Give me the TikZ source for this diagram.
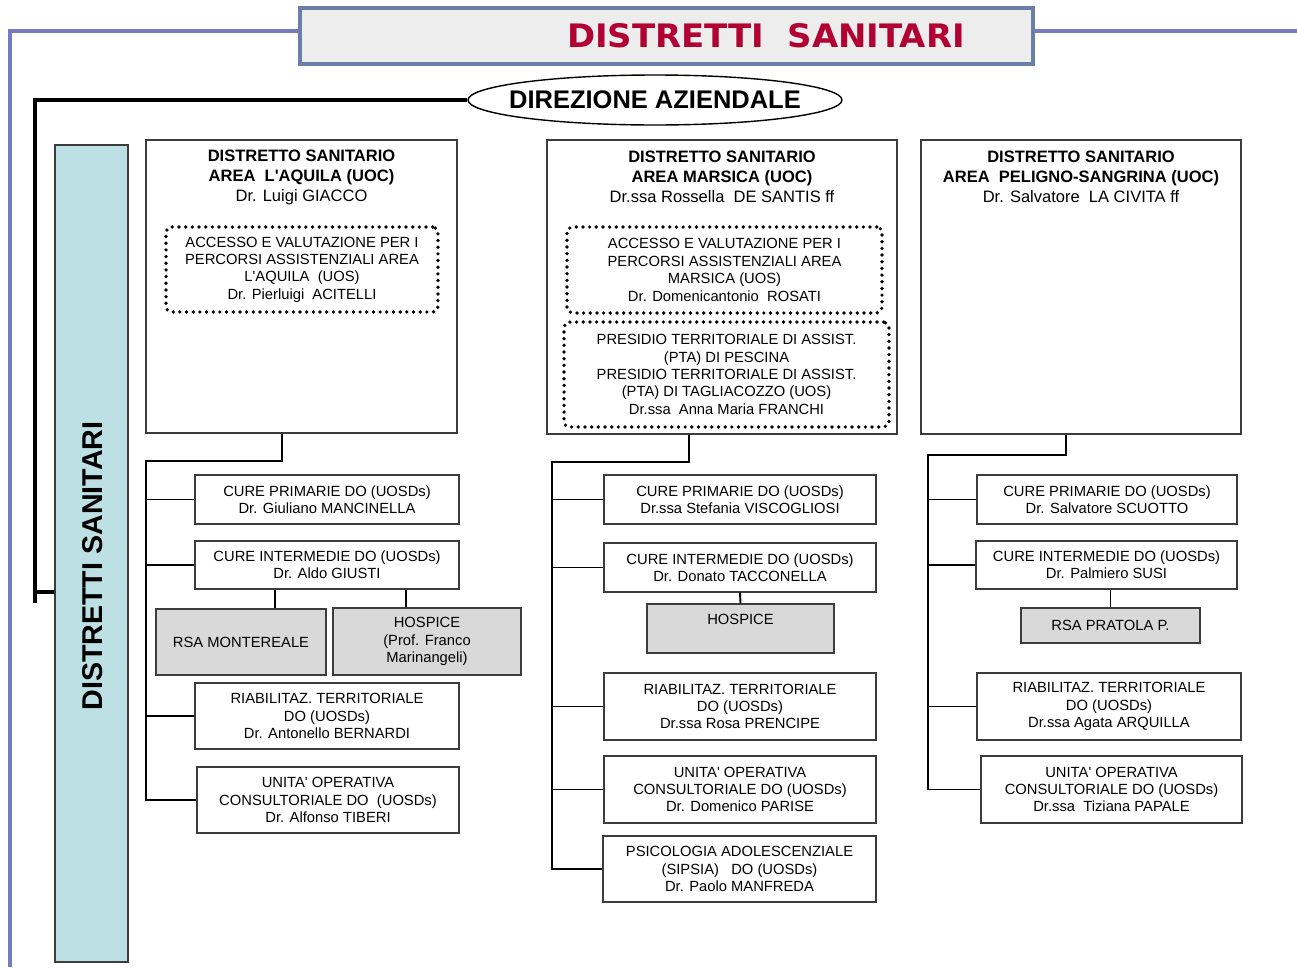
\documentclass[tikz,border=0pt]{standalone}
\usepackage{fontspec}
\setmainfont{Liberation Sans}[Ligatures=TeXOff]
\newfontfamily\titlefont{DejaVu Sans}
\usetikzlibrary{shapes.geometric}

\definecolor{framecol}{RGB}{118,122,190}
\definecolor{titleborder}{RGB}{104,128,168}
\definecolor{titlered}{RGB}{178,0,50}
\definecolor{sidecyan}{RGB}{189,224,228}
\definecolor{subgrey}{RGB}{217,217,217}
\definecolor{boxgrey}{RGB}{60,60,60}

\begin{document}
\begin{tikzpicture}
  [x=0.02cm,y=-0.02cm,
   every node/.style={font=\fontsize{8.4}{9.9}\selectfont,align=center,inner sep=0pt},
   unit/.style={draw=boxgrey,line width=0.7pt,fill=white},
   sub/.style={unit,fill=subgrey},
   dotbox/.style={draw,line width=2.1pt,line cap=round,dash pattern=on 0pt off 3.8pt,rounded corners=3pt},
   head/.style={font=\fontsize{9.4}{11.4}\selectfont},
   link/.style={line width=1.1pt},
   heavy/.style={line width=2.3pt},
   frame/.style={framecol,line width=2.3pt}]
  \useasboundingbox (0,0) rectangle (1297,967);

  % title and frame
  \node[draw=titleborder,line width=2.6pt,fill=black!7,minimum width=14.66cm,minimum height=1.12cm] (title) at (666.5,36) {};
  \node[text=titlered] (titlet) at (766,36) {\resizebox{7.96cm}{0.48cm}{\titlefont\bfseries DISTRETTI~ SANITARI}};
  \coordinate (fl) at (10,31);
  \coordinate (fb) at (10,967);
  \coordinate (fr) at (1297,31);
  \draw[frame] (title.west |- fl) -- (fl) -- (fb);
  \draw[frame] (title.east |- fr) -- (fr);

  % direzione
  \node[ellipse,draw,line width=0.8pt,fill=white,minimum width=7.48cm,minimum height=1cm] (dir) at (655,100) {};
  \node[font=\fontsize{14.5}{17}\selectfont\bfseries] (dirt) at (655,100) {DIREZIONE AZIENDALE};
  \node[unit,fill=sidecyan,minimum width=1.46cm,minimum height=16.34cm] (side) at (91.5,553.5) {};
  \node[rotate=90,font=\fontsize{16.3}{19}\selectfont\bfseries] (sidet) at (93,566) {DISTRETTI SANITARI};
  \coordinate (bk) at (35,97);
  \coordinate (bb) at (35,603);
  \coordinate (bs) at (35,592);
  \draw[heavy] (dir.west) -- (dir.west -| bk) -- (bb);
  \draw[heavy] (bs) -- (bs -| side.west);

  % area l'aquila
  \node[unit,minimum width=6.22cm,minimum height=5.86cm] (d1) at (301.5,286.5) {};
  \node[head] (d1h) at (301.5,177) {\textbf{DISTRETTO SANITARIO}\\\textbf{AREA~ L'AQUILA (UOC)}\\Dr. Luigi GIACCO};
  \node[dotbox,minimum width=5.44cm,minimum height=1.70cm] (acc1) at (302,269.5) {ACCESSO E VALUTAZIONE PER I\\PERCORSI ASSISTENZIALI AREA\\L'AQUILA~ (UOS)\\Dr. Pierluigi~ ACITELLI};
  \node[unit,minimum width=5.28cm,minimum height=0.98cm] (cp1) at (327,499.5) {CURE PRIMARIE DO (UOSDs)\\Dr. Giuliano MANCINELLA};
  \node[unit,minimum width=5.28cm,minimum height=0.96cm] (ci1) at (327,565) {CURE INTERMEDIE DO (UOSDs)\\Dr. Aldo GIUSTI};
  \node[sub,minimum width=3.40cm,minimum height=1.32cm] (rsa1) at (241,642) {RSA MONTEREALE};
  \node[sub,minimum width=3.76cm,minimum height=1.34cm] (hosp1) at (427,641.5) {HOSPICE\\(Prof. Franco\\Marinangeli)};
  \node[unit,minimum width=5.28cm,minimum height=1.32cm] (riab1) at (327,716) {RIABILITAZ. TERRITORIALE\\DO (UOSDs)\\Dr. Antonello BERNARDI};
  \node[unit,minimum width=5.24cm,minimum height=1.32cm] (uo1) at (328,800) {UNITA' OPERATIVA\\CONSULTORIALE DO~ (UOSDs)\\Dr. Alfonso TIBERI};

  % area marsica
  \node[unit,minimum width=7.00cm,minimum height=5.88cm] (d2) at (722,287) {};
  \node[head] (d2h) at (722,177) {\textbf{DISTRETTO SANITARIO}\\\textbf{AREA MARSICA (UOC)}\\Dr.ssa Rossella~ DE SANTIS ff};
  \node[dotbox,minimum width=6.30cm,minimum height=1.72cm] (acc2) at (724.5,270) {ACCESSO E VALUTAZIONE PER I\\PERCORSI ASSISTENZIALI AREA\\MARSICA (UOS)\\Dr. Domenicantonio~ ROSATI};
  \node[dotbox,minimum width=6.50cm,minimum height=2.10cm] (pta2) at (726.5,374.5) {PRESIDIO TERRITORIALE DI ASSIST.\\(PTA) DI PESCINA\\PRESIDIO TERRITORIALE DI ASSIST.\\(PTA) DI TAGLIACOZZO (UOS)\\Dr.ssa~ Anna Maria FRANCHI};
  \node[unit,minimum width=5.44cm,minimum height=0.98cm] (cp2) at (740,499.5) {CURE PRIMARIE DO (UOSDs)\\Dr.ssa Stefania VISCOGLIOSI};
  \node[unit,minimum width=5.44cm,minimum height=0.98cm] (ci2) at (740,567.5) {CURE INTERMEDIE DO (UOSDs)\\Dr. Donato TACCONELLA};
  \node[sub,minimum width=3.74cm,minimum height=0.98cm] (hosp2) at (740.5,628.5) {HOSPICE\\~};
  \node[unit,minimum width=5.44cm,minimum height=1.34cm] (riab2) at (740,706.5) {RIABILITAZ. TERRITORIALE\\DO (UOSDs)\\Dr.ssa Rosa PRENCIPE};
  \node[unit,minimum width=5.44cm,minimum height=1.34cm] (uo2) at (740,789.5) {UNITA' OPERATIVA\\CONSULTORIALE DO (UOSDs)\\Dr. Domenico PARISE};
  \node[unit,minimum width=5.46cm,minimum height=1.32cm] (psi2) at (739.5,869) {PSICOLOGIA ADOLESCENZIALE\\(SIPSIA)~~ DO (UOSDs)\\Dr. Paolo MANFREDA};

  % area peligno-sangrina
  \node[unit,minimum width=6.40cm,minimum height=5.88cm] (d3) at (1081,287) {};
  \node[head] (d3h) at (1081,177) {\textbf{DISTRETTO SANITARIO}\\\textbf{AREA~ PELIGNO-SANGRINA (UOC)}\\Dr. Salvatore~ LA CIVITA ff};
  \node[unit,minimum width=5.20cm,minimum height=0.98cm] (cp3) at (1107,499.5) {CURE PRIMARIE DO (UOSDs)\\Dr. Salvatore SCUOTTO};
  \node[unit,minimum width=5.22cm,minimum height=0.96cm] (ci3) at (1106.5,565) {CURE INTERMEDIE DO (UOSDs)\\Dr. Palmiero SUSI};
  \node[sub,minimum width=3.58cm,minimum height=0.70cm] (rsa3) at (1110.5,625.5) {RSA PRATOLA P.};
  \node[unit,minimum width=5.28cm,minimum height=1.34cm] (riab3) at (1109,706.5) {RIABILITAZ. TERRITORIALE\\DO (UOSDs)\\Dr.ssa Agata ARQUILLA};
  \node[unit,minimum width=5.22cm,minimum height=1.34cm] (uo3) at (1111.5,789.5) {UNITA' OPERATIVA\\CONSULTORIALE DO (UOSDs)\\Dr.ssa~ Tiziana PAPALE};

  % connectors
  \coordinate (j1) at (282,461);
  \coordinate (v1) at (146,461);
  \coordinate (s1) at (275,600);
  \coordinate (s2) at (406,600);
  \draw[link] (d1.south -| j1) -- (j1) -- (v1) -- (v1 |- uo1.west) -- (uo1.west);
  \foreach \n in {cp1,ci1,riab1}
    \draw[link] (v1 |- \n.west) -- (\n.west);
  \draw[link] (ci1.south -| s1) -- (rsa1.north -| s1);
  \draw[link] (ci1.south -| s2) -- (hosp1.north -| s2);

  \coordinate (j2) at (689,462);
  \coordinate (v2) at (552,462);
  \draw[link] (d2.south -| j2) -- (j2) -- (v2) -- (v2 |- psi2.west) -- (psi2.west);
  \foreach \n in {cp2,ci2,riab2,uo2}
    \draw[link] (v2 |- \n.west) -- (\n.west);
  \draw[link] (ci2.south) -- (hosp2.north);

  \coordinate (j3) at (1066,455);
  \coordinate (v3) at (928,455);
  \draw[link] (d3.south -| j3) -- (j3) -- (v3) -- (v3 |- uo3.west) -- (uo3.west);
  \foreach \n in {cp3,ci3,riab3}
    \draw[link] (v3 |- \n.west) -- (\n.west);
  \draw[link] (ci3.south -| rsa3.north) -- (rsa3.north);
\end{tikzpicture}
\end{document}
